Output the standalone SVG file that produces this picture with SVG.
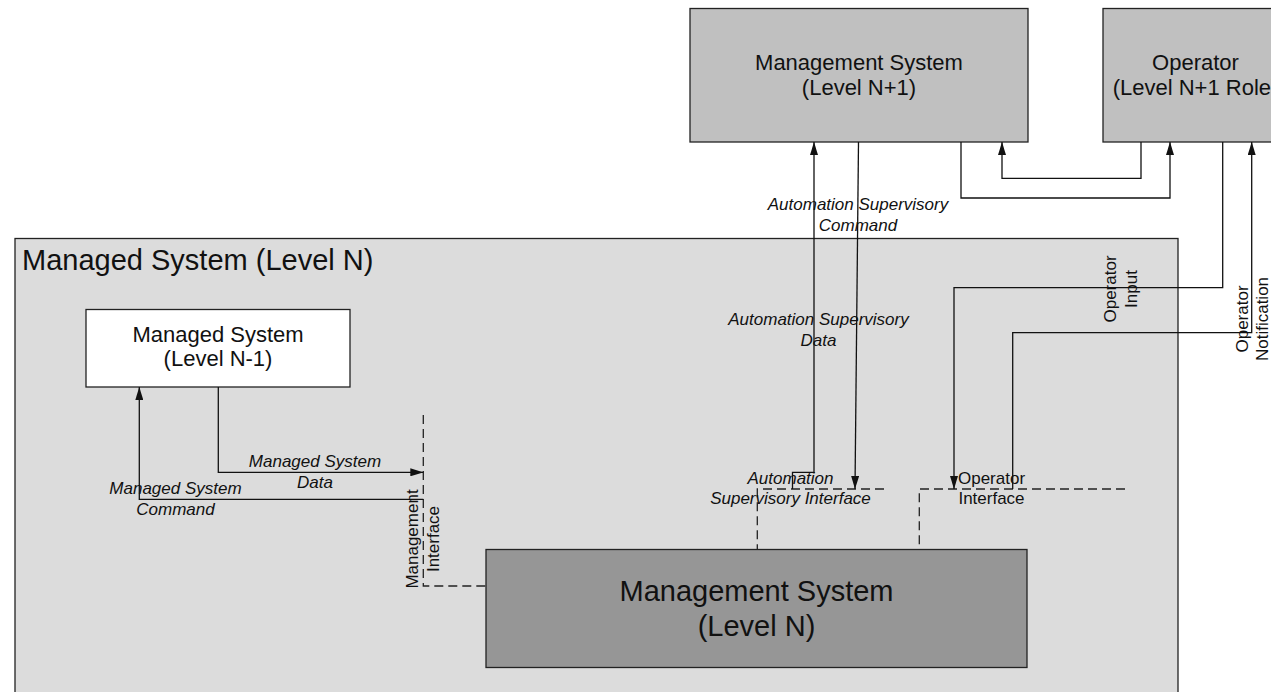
<svg xmlns="http://www.w3.org/2000/svg" width="1271" height="692" viewBox="0 0 1271 692">
<style>
.box{stroke:#222;stroke-width:1.3}
.t{font-family:"Liberation Sans",Arial,sans-serif;fill:#111}
.big{font-size:22px}
.lbl{font-size:17px}
.it{font-style:italic}
.conn{fill:none;stroke:#111;stroke-width:1.3}
.dash{fill:none;stroke:#222;stroke-width:1.3;stroke-dasharray:9 5}
</style>
<defs>
<marker id="arr" markerUnits="userSpaceOnUse" markerWidth="13" markerHeight="8" refX="13" refY="4" orient="auto">
<path d="M0,0 L13,4 L0,8 z" fill="#111"/>
</marker>
</defs>
<rect width="1271" height="692" fill="#fff"/>

<g id="managed-system-n">
<rect class="box" x="15" y="238.5" width="1163" height="470" fill="#dcdcdc"/>
<text class="t" x="22" y="270" font-size="29">Managed System (Level N)</text>
</g>

<g id="management-system-n1">
<rect class="box" x="690" y="8.5" width="338" height="133.5" fill="#c0c0c0"/>
<text class="t big" text-anchor="middle"><tspan x="859" y="70">Management System</tspan><tspan x="859" y="95">(Level N+1)</tspan></text>
</g>

<g id="operator">
<rect class="box" x="1103" y="8.5" width="185" height="133.5" fill="#c0c0c0"/>
<text class="t big" text-anchor="middle"><tspan x="1195.5" y="70">Operator</tspan><tspan x="1195.5" y="95">(Level N+1 Role)</tspan></text>
</g>

<g id="managed-system-n-1">
<rect class="box" x="86" y="309.5" width="264" height="77.5" fill="#ffffff"/>
<text class="t big" text-anchor="middle"><tspan x="218" y="342">Managed System</tspan><tspan x="218" y="366">(Level N-1)</tspan></text>
</g>

<g id="management-system-n">
<rect class="box" x="486" y="549.5" width="541" height="118" fill="#969696"/>
<text class="t" font-size="29" text-anchor="middle"><tspan x="756.5" y="601">Management System</tspan><tspan x="756.5" y="636">(Level N)</tspan></text>
</g>

<g id="management-interface">
<path class="dash" d="M423.3,415 V586 H486"/>
<text class="t lbl" text-anchor="middle" transform="translate(418,539) rotate(-90)"><tspan x="0" y="0">Management</tspan><tspan x="0" y="20.5">Interface</tspan></text>
</g>

<g id="automation-supervisory-interface">
<path class="dash" d="M884,489 H757.3 V549"/>
<text class="t lbl it" text-anchor="middle"><tspan x="790.5" y="483.5">Automation</tspan><tspan x="790.5" y="504">Supervisory Interface</tspan></text>
</g>

<g id="operator-interface">
<path class="dash" d="M1125,489 H919.3 V549"/>
<text class="t lbl" text-anchor="middle"><tspan x="991.5" y="483.5">Operator</tspan><tspan x="991.5" y="504">Interface</tspan></text>
</g>

<g id="connectors">
<path class="conn" d="M792.5,489 V472.3 H814 V142" marker-end="url(#arr)"/>
<path class="conn" d="M858.5,142 L855,489" marker-end="url(#arr)"/>
<path class="conn" d="M1222.7,142 V287.7 H954 V489" marker-end="url(#arr)"/>
<path class="conn" d="M1012.7,489 V332.7 H1251.7 V142" marker-end="url(#arr)"/>
<path class="conn" d="M961,142 V198 H1170 V142" marker-end="url(#arr)"/>
<path class="conn" d="M1141,142 V178.3 H1002 V142" marker-end="url(#arr)"/>
<path class="conn" d="M218.3,387 V472.3 H423.3" marker-end="url(#arr)"/>
<path class="conn" d="M423.3,499.3 H139.3 V387" marker-end="url(#arr)"/>

<text class="t lbl it" text-anchor="middle"><tspan x="858" y="210">Automation Supervisory</tspan><tspan x="858" y="230.5">Command</tspan></text>
<text class="t lbl it" text-anchor="middle"><tspan x="818.5" y="325">Automation Supervisory</tspan><tspan x="818.5" y="345.5">Data</tspan></text>
<text class="t lbl it" text-anchor="middle"><tspan x="315" y="467">Managed System</tspan><tspan x="315" y="487.5">Data</tspan></text>
<text class="t lbl it" text-anchor="middle"><tspan x="175.5" y="494">Managed System</tspan><tspan x="175.5" y="514.5">Command</tspan></text>
<text class="t lbl" text-anchor="middle" transform="translate(1116,289) rotate(-90)"><tspan x="0" y="0">Operator</tspan><tspan x="0" y="20.5">Input</tspan></text>
<text class="t lbl" text-anchor="middle" transform="translate(1247.5,319) rotate(-90)"><tspan x="0" y="0">Operator</tspan><tspan x="0" y="20.5">Notification</tspan></text>
</g>
</svg>
